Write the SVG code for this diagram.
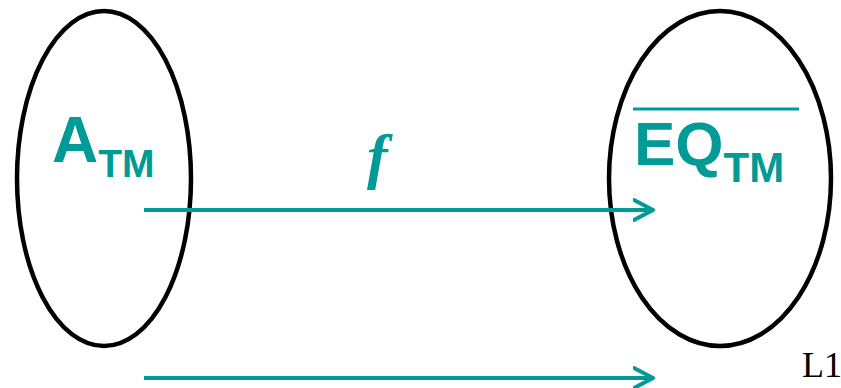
<svg xmlns="http://www.w3.org/2000/svg" width="841" height="388" viewBox="0 0 841 388">
<style>
.set{fill:none;stroke:#000;stroke-width:4.5}
.lbl{font-family:"Liberation Sans",Arial,sans-serif;font-weight:bold;fill:#009b97}
.conn{stroke:#009b97;stroke-width:4;fill:none}
</style>
<defs>
<marker id="arr" markerUnits="userSpaceOnUse" markerWidth="30" markerHeight="30" refX="20" refY="15" orient="auto" viewBox="0 0 30 30">
<path d="M1,5 L20,15 L1,25" fill="none" stroke="#009b97" stroke-width="4" stroke-linecap="round" stroke-linejoin="round"/>
</marker>
</defs>
<rect width="841" height="388" fill="#fff"/>
<g id="A_TM">
<ellipse class="set" cx="104" cy="178.5" rx="87" ry="167.5"/>
<text class="lbl" x="52" y="162" font-size="64">A<tspan font-size="39" dy="15">TM</tspan></text>
</g>
<g id="EQ_TM">
<ellipse class="set" cx="720" cy="178.5" rx="111" ry="167.5"/>
<line x1="633" y1="109" x2="799" y2="109" stroke="#009b97" stroke-width="3"/>
<text class="lbl" x="634" y="165" font-size="62">EQ<tspan font-size="42" dy="17">TM</tspan></text>
</g>
<g id="connectors">
<line class="conn" x1="144" y1="210" x2="653" y2="210" marker-end="url(#arr)"/>
<line class="conn" x1="144" y1="378" x2="653" y2="378" marker-end="url(#arr)"/>
<text x="367" y="177" font-family="'Liberation Serif','Times New Roman',serif" font-style="italic" font-weight="bold" font-size="62" fill="#009b97">f</text>
</g>
<text x="802" y="377" font-family="'Liberation Serif','Times New Roman',serif" font-size="36" fill="#000">L1</text>
</svg>
